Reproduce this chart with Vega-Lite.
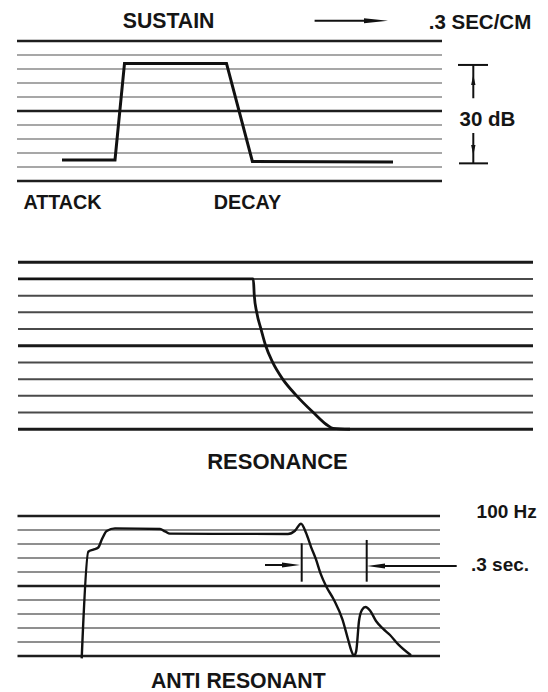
{
  "$schema": "https://vega.github.io/schema/vega-lite/v6.json",
  "padding": 0,
  "spacing": 0,
  "background": "white",
  "config": {"view": {"stroke": null}, "concat": {"spacing": 0}},
  "datasets": {
    "grid": [
      {"panel": "sustain", "level": 0, "start": 1.7, "end": 44.2, "kind": "major"},
      {"panel": "sustain", "level": 1, "start": 1.7, "end": 44.2, "kind": "minor"},
      {"panel": "sustain", "level": 2, "start": 1.7, "end": 44.2, "kind": "minor"},
      {"panel": "sustain", "level": 3, "start": 1.7, "end": 44.2, "kind": "minor"},
      {"panel": "sustain", "level": 4, "start": 1.7, "end": 44.2, "kind": "minor"},
      {"panel": "sustain", "level": 5, "start": 1.7, "end": 44.2, "kind": "major"},
      {"panel": "sustain", "level": 6, "start": 1.7, "end": 44.2, "kind": "minor"},
      {"panel": "sustain", "level": 7, "start": 1.7, "end": 44.2, "kind": "minor"},
      {"panel": "sustain", "level": 8, "start": 1.7, "end": 44.2, "kind": "minor"},
      {"panel": "sustain", "level": 9, "start": 1.7, "end": 44.2, "kind": "minor"},
      {"panel": "sustain", "level": 10, "start": 1.7, "end": 44.2, "kind": "major"},
      {"panel": "resonance", "level": 0, "start": 1.8, "end": 53.3, "kind": "major"},
      {"panel": "resonance", "level": 1, "start": 1.8, "end": 53.3, "kind": "minor"},
      {"panel": "resonance", "level": 2, "start": 1.8, "end": 53.3, "kind": "minor"},
      {"panel": "resonance", "level": 3, "start": 1.8, "end": 53.3, "kind": "minor"},
      {"panel": "resonance", "level": 4, "start": 1.8, "end": 53.3, "kind": "minor"},
      {"panel": "resonance", "level": 5, "start": 1.8, "end": 53.3, "kind": "major"},
      {"panel": "resonance", "level": 6, "start": 1.8, "end": 53.3, "kind": "minor"},
      {"panel": "resonance", "level": 7, "start": 1.8, "end": 53.3, "kind": "minor"},
      {"panel": "resonance", "level": 8, "start": 1.8, "end": 53.3, "kind": "minor"},
      {"panel": "resonance", "level": 9, "start": 1.8, "end": 53.3, "kind": "minor"},
      {"panel": "resonance", "level": 10, "start": 1.8, "end": 53.3, "kind": "major"},
      {"panel": "anti", "level": 0, "start": 1.75, "end": 44.0, "kind": "major"},
      {"panel": "anti", "level": 1, "start": 1.75, "end": 44.0, "kind": "minor"},
      {"panel": "anti", "level": 2, "start": 1.75, "end": 44.0, "kind": "minor"},
      {"panel": "anti", "level": 3, "start": 1.75, "end": 44.0, "kind": "minor"},
      {"panel": "anti", "level": 4, "start": 1.75, "end": 44.0, "kind": "minor"},
      {"panel": "anti", "level": 5, "start": 1.75, "end": 44.0, "kind": "major"},
      {"panel": "anti", "level": 6, "start": 1.75, "end": 44.0, "kind": "minor"},
      {"panel": "anti", "level": 7, "start": 1.75, "end": 44.0, "kind": "minor"},
      {"panel": "anti", "level": 8, "start": 1.75, "end": 44.0, "kind": "minor"},
      {"panel": "anti", "level": 9, "start": 1.75, "end": 44.0, "kind": "minor"},
      {"panel": "anti", "level": 10, "start": 1.75, "end": 44.0, "kind": "major"}
    ],
    "trace": [
      {"panel": "sustain", "i": 1, "t": 6.2, "level": 1.5},
      {"panel": "sustain", "i": 2, "t": 11.5, "level": 1.5},
      {"panel": "sustain", "i": 3, "t": 12.45, "level": 8.4},
      {"panel": "sustain", "i": 4, "t": 22.65, "level": 8.4},
      {"panel": "sustain", "i": 5, "t": 25.24, "level": 1.4},
      {"panel": "sustain", "i": 6, "t": 39.3, "level": 1.35},
      {"panel": "resonance", "i": 1, "t": 1.8, "level": 9},
      {"panel": "resonance", "i": 2, "t": 25.33, "level": 9},
      {"panel": "resonance", "i": 3, "t": 25.43, "level": 8},
      {"panel": "resonance", "i": 4, "t": 25.67, "level": 7},
      {"panel": "resonance", "i": 5, "t": 26.1, "level": 6},
      {"panel": "resonance", "i": 6, "t": 26.57, "level": 5},
      {"panel": "resonance", "i": 7, "t": 27.27, "level": 4},
      {"panel": "resonance", "i": 8, "t": 28.27, "level": 3},
      {"panel": "resonance", "i": 9, "t": 29.67, "level": 2},
      {"panel": "resonance", "i": 10, "t": 31.33, "level": 1},
      {"panel": "resonance", "i": 11, "t": 32.6, "level": 0.3},
      {"panel": "resonance", "i": 12, "t": 33.3, "level": 0.05},
      {"panel": "resonance", "i": 13, "t": 35.0, "level": 0},
      {"panel": "anti", "i": 1, "t": 8.17, "level": -0.17},
      {"panel": "anti", "i": 2, "t": 8.83, "level": 7.45},
      {"panel": "anti", "i": 3, "t": 9.33, "level": 7.6},
      {"panel": "anti", "i": 4, "t": 9.83, "level": 7.75},
      {"panel": "anti", "i": 5, "t": 10.17, "level": 8.3},
      {"panel": "anti", "i": 6, "t": 10.67, "level": 8.93},
      {"panel": "anti", "i": 7, "t": 11.5, "level": 9.12},
      {"panel": "anti", "i": 8, "t": 16.0, "level": 9.07},
      {"panel": "anti", "i": 9, "t": 16.5, "level": 8.9},
      {"panel": "anti", "i": 10, "t": 17.0, "level": 8.74},
      {"panel": "anti", "i": 11, "t": 28.8, "level": 8.72},
      {"panel": "anti", "i": 12, "t": 29.5, "level": 8.95},
      {"panel": "anti", "i": 13, "t": 30.1, "level": 9.45},
      {"panel": "anti", "i": 14, "t": 30.6, "level": 8.8},
      {"panel": "anti", "i": 15, "t": 31.1, "level": 7.8},
      {"panel": "anti", "i": 16, "t": 31.6, "level": 6.9},
      {"panel": "anti", "i": 17, "t": 32.05, "level": 5.9},
      {"panel": "anti", "i": 18, "t": 32.6, "level": 5.0},
      {"panel": "anti", "i": 19, "t": 33.4, "level": 4.0},
      {"panel": "anti", "i": 20, "t": 34.25, "level": 2.6},
      {"panel": "anti", "i": 21, "t": 34.8, "level": 1.2},
      {"panel": "anti", "i": 22, "t": 35.15, "level": 0.35},
      {"panel": "anti", "i": 23, "t": 35.4, "level": 0.02},
      {"panel": "anti", "i": 24, "t": 35.62, "level": 0.35},
      {"panel": "anti", "i": 25, "t": 35.9, "level": 2.5},
      {"panel": "anti", "i": 26, "t": 36.2, "level": 3.3},
      {"panel": "anti", "i": 27, "t": 36.55, "level": 3.5},
      {"panel": "anti", "i": 28, "t": 37.0, "level": 3.25},
      {"panel": "anti", "i": 29, "t": 37.6, "level": 2.5},
      {"panel": "anti", "i": 30, "t": 38.3, "level": 1.95},
      {"panel": "anti", "i": 31, "t": 39.0, "level": 1.5},
      {"panel": "anti", "i": 32, "t": 39.8, "level": 0.85},
      {"panel": "anti", "i": 33, "t": 41.1, "level": 0.05}
    ],
    "segments": [
      {"panel": "sustain", "t": 31.46, "level": 11.45, "t2": 37.0, "level2": 11.45},
      {"panel": "sustain", "t": 45.8, "level": 8.29, "t2": 48.8, "level2": 8.29},
      {"panel": "sustain", "t": 47.33, "level": 8.29, "t2": 47.33, "level2": 5.91},
      {"panel": "sustain", "t": 47.33, "level": 3.43, "t2": 47.33, "level2": 1.26},
      {"panel": "sustain", "t": 45.9, "level": 1.26, "t2": 48.8, "level2": 1.26},
      {"panel": "anti", "t": 26.5, "level": 6.5, "t2": 29.2, "level2": 6.5},
      {"panel": "anti", "t": 30.17, "level": 8.05, "t2": 30.17, "level2": 5.31},
      {"panel": "anti", "t": 36.67, "level": 8.29, "t2": 36.67, "level2": 5.31},
      {"panel": "anti", "t": 37.5, "level": 6.43, "t2": 45.67, "level2": 6.43}
    ],
    "heads": [
      {"panel": "sustain", "t": 37.6, "level": 11.45, "dir": "long-right"},
      {"panel": "sustain", "t": 47.33, "level": 7.21, "dir": "up"},
      {"panel": "sustain", "t": 47.33, "level": 2.21, "dir": "down"},
      {"panel": "anti", "t": 29.1, "level": 6.5, "dir": "right"},
      {"panel": "anti", "t": 37.6, "level": 6.43, "dir": "left"}
    ],
    "labels": [
      {"panel": "sustain", "t": 16.86, "level": 11.38, "text": "SUSTAIN", "role": "caption"},
      {"panel": "sustain", "t": 48.0, "level": 11.32, "text": ".3 SEC/CM", "role": "scale"},
      {"panel": "sustain", "t": 48.75, "level": 4.36, "text": "30 dB", "role": "scale"},
      {"panel": "sustain", "t": 6.25, "level": -1.57, "text": "ATTACK", "role": "label"},
      {"panel": "sustain", "t": 24.75, "level": -1.57, "text": "DECAY", "role": "label"},
      {"panel": "resonance", "t": 27.75, "level": -1.99, "text": "RESONANCE", "role": "heading"},
      {"panel": "anti", "t": 50.67, "level": 10.31, "text": "100  Hz", "role": "note"},
      {"panel": "anti", "t": 50.0, "level": 6.5, "text": ".3 sec.", "role": "note"},
      {"panel": "anti", "t": 23.83, "level": -1.84, "text": "ANTI  RESONANT", "role": "caption"}
    ]
  },
  "vconcat": [
    {
      "width": 548,
      "height": 215,
      "layer": [
        {
          "data": {"name": "grid"},
          "transform": [{"filter": "datum.panel === 'sustain' && datum.kind === 'minor'"}],
          "mark": {"type": "rule", "color": "#8a8a8a", "strokeWidth": 1.4},
          "encoding": {
            "x": {"field": "start", "type": "quantitative", "scale": {"domain": [0, 54.8], "nice": false, "zero": false}, "axis": null},
            "x2": {"field": "end"},
            "y": {"field": "level", "type": "quantitative", "scale": {"domain": [-2.43, 12.93], "nice": false, "zero": false}, "axis": null}
          }
        },
        {
          "data": {"name": "grid"},
          "transform": [{"filter": "datum.panel === 'sustain' && datum.kind === 'major'"}],
          "mark": {"type": "rule", "color": "#1e1e1e", "strokeWidth": 2.6},
          "encoding": {
            "x": {"field": "start", "type": "quantitative"},
            "x2": {"field": "end"},
            "y": {"field": "level", "type": "quantitative"}
          }
        },
        {
          "data": {"name": "trace"},
          "transform": [{"filter": "datum.panel === 'sustain'"}],
          "mark": {"type": "line", "color": "#111", "strokeWidth": 3, "interpolate": "linear"},
          "encoding": {
            "x": {"field": "t", "type": "quantitative"},
            "y": {"field": "level", "type": "quantitative"},
            "order": {"field": "i", "type": "quantitative"}
          }
        },
        {
          "data": {"name": "segments"},
          "transform": [{"filter": "datum.panel === 'sustain'"}],
          "mark": {"type": "rule", "color": "#111", "strokeWidth": 2},
          "encoding": {
            "x": {"field": "t", "type": "quantitative"},
            "x2": {"field": "t2"},
            "y": {"field": "level", "type": "quantitative"},
            "y2": {"field": "level2"}
          }
        },
        {
          "data": {"name": "heads"},
          "transform": [{"filter": "datum.panel === 'sustain'"}],
          "mark": {"type": "point", "filled": true, "opacity": 1, "color": "#111", "size": 400, "strokeWidth": 0},
          "encoding": {
            "x": {"field": "t", "type": "quantitative"},
            "y": {"field": "level", "type": "quantitative"},
            "shape": {"field": "dir", "type": "nominal", "legend": null, "scale": {"domain": ["long-right", "right", "left", "up", "down"], "range": ["M-1.2,-0.25L1.2,0L-1.2,0.25Z", "M-0.9,-0.25L0.9,0L-0.9,0.25Z", "M0.9,-0.25L-0.9,0L0.9,0.25Z", "M-0.22,0.5L0,-0.5L0.22,0.5Z", "M-0.22,-0.5L0,0.5L0.22,-0.5Z"]}}
          }
        },
        {
          "data": {"name": "labels"},
          "transform": [{"filter": "datum.panel === 'sustain'"}],
          "mark": {"type": "text", "font": "Liberation Sans", "fontWeight": "bold", "color": "#151515", "align": "center", "baseline": "middle"},
          "encoding": {
            "x": {"field": "t", "type": "quantitative"},
            "y": {"field": "level", "type": "quantitative"},
            "text": {"field": "text"},
            "size": {"field": "role", "type": "nominal", "legend": null, "scale": {"domain": ["heading", "caption", "scale", "label", "note"], "range": [22, 19, 20, 18, 17]}}
          }
        }
      ]
    },
    {
      "width": 548,
      "height": 260,
      "layer": [
        {
          "data": {"name": "grid"},
          "transform": [{"filter": "datum.panel === 'resonance' && datum.kind === 'minor'"}],
          "mark": {"type": "rule", "color": "#4a4a4a", "strokeWidth": 2},
          "encoding": {
            "x": {"field": "start", "type": "quantitative", "scale": {"domain": [0, 54.8], "nice": false, "zero": false}, "axis": null},
            "x2": {"field": "end"},
            "y": {"field": "level", "type": "quantitative", "scale": {"domain": [-2.74, 12.83], "nice": false, "zero": false}, "axis": null}
          }
        },
        {
          "data": {"name": "grid"},
          "transform": [{"filter": "datum.panel === 'resonance' && datum.kind === 'major'"}],
          "mark": {"type": "rule", "color": "#1a1a1a", "strokeWidth": 2.8},
          "encoding": {
            "x": {"field": "start", "type": "quantitative"},
            "x2": {"field": "end"},
            "y": {"field": "level", "type": "quantitative"}
          }
        },
        {
          "data": {"name": "trace"},
          "transform": [{"filter": "datum.panel === 'resonance'"}],
          "mark": {"type": "line", "color": "#111", "strokeWidth": 2.8, "interpolate": "monotone"},
          "encoding": {
            "x": {"field": "t", "type": "quantitative"},
            "y": {"field": "level", "type": "quantitative"},
            "order": {"field": "i", "type": "quantitative"}
          }
        },
        {
          "data": {"name": "labels"},
          "transform": [{"filter": "datum.panel === 'resonance'"}],
          "mark": {"type": "text", "font": "Liberation Sans", "fontWeight": "bold", "color": "#151515", "align": "center", "baseline": "middle"},
          "encoding": {
            "x": {"field": "t", "type": "quantitative"},
            "y": {"field": "level", "type": "quantitative"},
            "text": {"field": "text"},
            "size": {"field": "role", "type": "nominal", "legend": null, "scale": {"domain": ["heading", "caption", "scale", "label", "note"], "range": [22, 19, 20, 18, 17]}}
          }
        }
      ]
    },
    {
      "width": 548,
      "height": 217,
      "layer": [
        {
          "data": {"name": "grid"},
          "transform": [{"filter": "datum.panel === 'anti' && datum.kind === 'minor'"}],
          "mark": {"type": "rule", "color": "#6a6a6a", "strokeWidth": 1.5},
          "encoding": {
            "x": {"field": "start", "type": "quantitative", "scale": {"domain": [0, 54.8], "nice": false, "zero": false}, "axis": null},
            "x2": {"field": "end"},
            "y": {"field": "level", "type": "quantitative", "scale": {"domain": [-2.57, 12.93], "nice": false, "zero": false}, "axis": null}
          }
        },
        {
          "data": {"name": "grid"},
          "transform": [{"filter": "datum.panel === 'anti' && datum.kind === 'major'"}],
          "mark": {"type": "rule", "color": "#1e1e1e", "strokeWidth": 2.6},
          "encoding": {
            "x": {"field": "start", "type": "quantitative"},
            "x2": {"field": "end"},
            "y": {"field": "level", "type": "quantitative"}
          }
        },
        {
          "data": {"name": "trace"},
          "transform": [{"filter": "datum.panel === 'anti'"}],
          "mark": {"type": "line", "color": "#111", "strokeWidth": 2.4, "interpolate": "monotone"},
          "encoding": {
            "x": {"field": "t", "type": "quantitative"},
            "y": {"field": "level", "type": "quantitative"},
            "order": {"field": "i", "type": "quantitative"}
          }
        },
        {
          "data": {"name": "segments"},
          "transform": [{"filter": "datum.panel === 'anti'"}],
          "mark": {"type": "rule", "color": "#111", "strokeWidth": 2},
          "encoding": {
            "x": {"field": "t", "type": "quantitative"},
            "x2": {"field": "t2"},
            "y": {"field": "level", "type": "quantitative"},
            "y2": {"field": "level2"}
          }
        },
        {
          "data": {"name": "heads"},
          "transform": [{"filter": "datum.panel === 'anti'"}],
          "mark": {"type": "point", "filled": true, "opacity": 1, "color": "#111", "size": 400, "strokeWidth": 0},
          "encoding": {
            "x": {"field": "t", "type": "quantitative"},
            "y": {"field": "level", "type": "quantitative"},
            "shape": {"field": "dir", "type": "nominal", "legend": null, "scale": {"domain": ["long-right", "right", "left", "up", "down"], "range": ["M-1.2,-0.25L1.2,0L-1.2,0.25Z", "M-0.9,-0.25L0.9,0L-0.9,0.25Z", "M0.9,-0.25L-0.9,0L0.9,0.25Z", "M-0.22,0.5L0,-0.5L0.22,0.5Z", "M-0.22,-0.5L0,0.5L0.22,-0.5Z"]}}
          }
        },
        {
          "data": {"name": "labels"},
          "transform": [{"filter": "datum.panel === 'anti'"}],
          "mark": {"type": "text", "font": "Liberation Sans", "fontWeight": "bold", "color": "#151515", "align": "center", "baseline": "middle"},
          "encoding": {
            "x": {"field": "t", "type": "quantitative"},
            "y": {"field": "level", "type": "quantitative"},
            "text": {"field": "text"},
            "size": {"field": "role", "type": "nominal", "legend": null, "scale": {"domain": ["heading", "caption", "scale", "label", "note"], "range": [22, 19, 20, 18, 17]}}
          }
        }
      ]
    }
  ]
}
